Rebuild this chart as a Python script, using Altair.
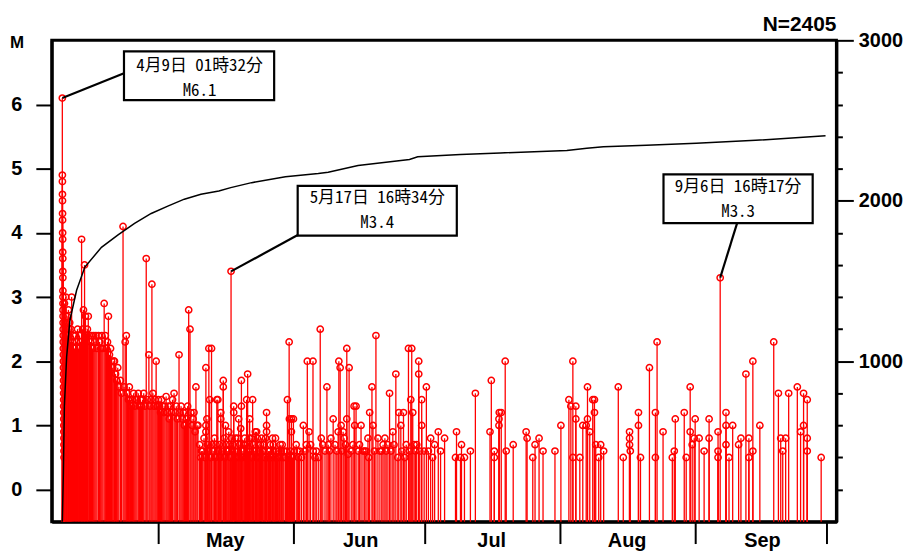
import altair as alt
import pandas as pd

# ---------------- data (day = days since 1 April, 00:00) ----------------
apr_events = [
    (8.06, 6.1), (8.07, 4.9), (8.08, 4.8), (8.09, 4.6), (8.10, 4.5), (8.11, 4.3), (8.12, 4.2),
    (8.13, 4.0), (8.14, 3.9), (8.15, 3.7), (8.16, 3.6), (8.17, 3.4), (8.18, 3.3), (8.19, 3.1),
    (8.20, 3.0), (8.21, 2.9), (8.22, 2.8), (8.23, 2.7), (8.24, 2.6), (8.25, 2.5), (8.26, 2.4),
    (8.27, 2.3), (8.28, 2.2), (8.29, 2.1), (8.30, 2.0), (8.31, 1.9), (8.32, 1.8), (8.33, 1.7),
    (8.34, 1.6), (8.35, 1.5), (8.36, 1.4), (8.37, 1.3), (8.38, 1.2), (8.39, 1.1), (8.40, 1.0),
    (8.41, 0.9), (8.42, 0.8), (8.43, 0.7), (8.44, 0.6), (8.45, 0.5),
    (8.55, 2.9), (8.7, 2.6), (8.85, 3.0), (9.0, 2.5), (9.15, 2.7), (9.3, 2.4), (9.45, 2.8),
    (9.6, 2.5), (9.75, 2.6), (9.9, 2.3), (10.05, 2.5), (10.19, 3.0),
    (10.4, 2.3), (10.6, 2.4), (10.85, 2.2), (11.1, 2.4), (11.3, 2.3), (11.55, 2.5), (11.8, 2.2),
    (12.0, 2.4), (12.25, 2.3), (12.47, 3.9), (12.7, 2.5), (12.9, 2.8), (13.15, 3.5), (13.35, 2.7),
    (13.6, 2.4), (13.8, 2.5), (14.0, 2.7), (14.25, 2.4), (14.5, 2.3), (14.75, 2.4), (15.0, 2.2),
    (15.25, 2.4), (15.5, 2.3), (15.75, 2.4), (16.0, 2.2), (16.34, 2.4),
    (16.6, 2.3), (16.85, 2.2), (17.1, 2.4), (17.35, 2.2), (17.64, 2.9), (17.9, 2.4), (18.15, 2.2),
    (18.4, 2.3), (18.61, 2.7), (18.85, 2.1), (19.1, 2.2), (19.35, 2.0), (19.6, 1.9), (19.85, 2.0),
    (20.0, 2.0), (20.25, 1.8), (20.5, 1.7), (20.75, 1.9), (21.0, 1.6), (21.35, 1.7), (21.6, 1.5),
    (21.96, 4.1), (22.2, 1.6), (22.45, 2.3), (22.71, 2.4), (22.95, 1.5), (23.2, 1.4), (23.4, 1.6),
    (23.65, 1.4), (23.9, 1.3), (24.15, 1.4), (24.4, 1.5), (24.65, 1.3), (24.9, 1.4), (25.15, 1.4),
    (25.45, 1.5), (25.7, 1.3), (25.95, 1.4), (26.2, 1.3), (26.45, 1.4), (26.7, 1.5), (27.0, 1.3),
    (27.27, 3.6), (27.5, 1.4), (27.88, 2.1), (28.1, 1.3), (28.35, 1.4), (28.57, 3.2), (28.8, 1.5),
    (29.05, 1.3), (29.3, 1.4), (29.54, 2.0), (29.8, 1.3),
]
may_events = [
    (30.05, 1.4), (30.3, 1.3), (30.55, 1.2), (30.8, 1.4), (31.05, 1.3), (31.3, 1.2), (31.55, 1.3),
    (31.82, 1.45), (32.05, 1.2), (32.3, 1.3), (32.55, 1.1), (32.8, 1.3), (33.05, 1.2), (33.3, 1.4),
    (33.64, 1.5), (33.9, 1.2), (34.15, 1.3), (34.4, 1.1), (34.78, 2.1), (35.0, 1.2), (35.25, 1.3),
    (35.5, 1.1), (35.75, 1.2), (36.0, 1.0), (36.25, 1.2), (36.5, 1.1), (36.75, 1.3), (36.99, 2.8),
    (37.29, 2.5), (37.5, 1.2), (37.75, 1.0), (38.0, 1.1), (38.2, 1.2), (38.45, 0.9), (38.65, 1.6),
    (38.9, 1.0), (39.11, 1.0),
    (39.5, 0.7), (39.73, 0.5), (39.9, 0.6), (40.2, 0.6), (40.5, 0.8), (40.7, 0.5), (40.93, 1.9),
    (40.93, 1.0), (40.93, 0.9), (41.16, 1.1), (41.3, 0.7), (41.45, 0.6), (41.61, 2.2), (41.8, 1.4),
    (42.05, 0.5), (42.22, 2.2), (42.30, 0.7), (42.6, 0.6), (42.9, 0.8), (43.1, 0.5), (43.25, 0.7),
    (43.43, 1.4), (43.66, 1.4), (43.85, 0.6), (44.0, 0.7), (44.15, 0.5), (44.34, 1.2), (44.34, 1.1),
    (44.6, 0.6), (44.91, 1.7), (44.91, 1.6), (45.1, 0.8), (45.25, 0.5), (45.41, 1.0), (45.6, 0.7),
    (45.8, 0.6), (46.0, 0.6), (46.17, 0.9), (46.4, 0.7), (46.55, 0.5), (46.69, 3.4), (46.84, 0.8),
    (47.0, 0.6), (47.15, 0.7), (47.30, 1.3), (47.30, 1.2), (47.5, 0.6), (47.7, 0.8), (47.9, 0.5),
    (48.1, 0.6), (48.25, 0.8), (48.44, 1.1), (48.55, 0.5), (48.7, 0.7), (48.9, 0.95), (49.06, 1.7),
    (49.06, 1.3), (49.25, 0.5), (49.4, 0.6), (49.6, 0.7), (49.81, 0.8), (50.0, 0.7), (50.15, 0.5),
    (50.26, 1.4), (50.49, 1.8), (50.7, 0.6), (50.85, 0.8), (50.95, 1.1), (51.1, 0.6), (51.3, 0.8),
    (51.45, 0.5), (51.63, 1.4), (51.8, 0.7), (52.0, 0.6), (52.25, 0.9), (52.4, 0.5), (52.54, 0.9),
    (52.7, 0.8), (52.9, 0.7), (53.05, 0.5), (53.2, 0.6), (53.45, 0.7), (53.68, 0.8), (53.85, 0.6),
    (54.0, 0.7), (54.2, 0.6), (54.4, 0.5), (54.6, 0.8), (54.82, 1.2), (54.82, 1.0), (54.82, 0.9),
    (55.1, 0.5), (55.3, 0.6), (55.5, 0.6), (55.7, 0.7), (55.9, 0.5), (56.18, 0.8), (56.35, 0.7),
    (56.5, 0.6), (56.7, 0.5), (56.87, 0.8), (57.1, 0.6), (57.32, 0.5), (57.6, 0.6), (57.8, 0.5),
    (57.94, 0.7), (58.2, 0.6), (58.4, 0.7), (58.6, 0.5), (58.8, 0.6), (59.14, 0.5), (59.4, 0.6),
    (59.60, 1.4), (59.8, 0.5), (59.99, 2.3), (60.05, 1.1), (60.3, 0.6), (60.51, 1.1), (60.51, 0.9),
    (60.75, 0.5), (60.97, 1.1),
]
jun_events = [
    (61.19, 0.6), (61.6, 0.7), (61.85, 0.6), (62.10, 0.5), (62.4, 0.6), (62.79, 0.5), (63.24, 1.0),
    (63.6, 0.6), (63.93, 0.7), (64.15, 2.0), (64.54, 0.9), (64.9, 0.7), (65.45, 2.0), (65.52, 0.6),
    (65.9, 0.5), (66.20, 0.6), (66.66, 0.5), (67.11, 2.5), (67.34, 0.8), (67.7, 0.7), (68.2, 0.6),
    (68.64, 1.6), (68.94, 0.7), (69.2, 0.6), (69.55, 0.8), (70.07, 1.1), (70.5, 0.7), (70.9, 0.6),
    (71.21, 0.9), (71.37, 2.0), (71.67, 1.9), (71.89, 1.0), (72.0, 0.6), (72.35, 0.9), (72.58, 0.8),
    (72.9, 0.7), (73.19, 2.2), (73.19, 1.1), (73.49, 0.55), (73.72, 1.9), (74.2, 0.6), (74.6, 0.7),
    (74.86, 1.3), (75.0, 1.0), (75.31, 1.3), (75.8, 0.6), (76.1, 0.7), (76.45, 1.0), (76.90, 0.6),
    (77.29, 0.6), (77.6, 0.6), (78.04, 0.8), (78.2, 0.5), (78.43, 1.2), (78.95, 1.6), (79.18, 1.0),
    (79.5, 0.6), (79.86, 2.4), (80.32, 0.8), (80.77, 0.6), (81.2, 0.6), (81.5, 0.7), (81.91, 0.8),
    (82.2, 0.6), (82.60, 0.7), (82.98, 1.5), (83.3, 0.6), (83.73, 0.9), (84.0, 0.7), (84.42, 1.8),
    (84.87, 0.5), (85.10, 1.2), (85.56, 1.0), (85.8, 0.6), (86.17, 1.2), (86.47, 0.5), (86.8, 0.7),
    (87.31, 2.2), (87.6, 0.6), (87.84, 1.4), (88.06, 2.2), (88.29, 1.2), (88.6, 0.7), (88.9, 0.6),
    (89.20, 0.7), (89.66, 2.0), (89.66, 1.8), (89.9, 0.6), (90.34, 1.4), (90.34, 1.0), (90.9, 0.6),
]
jul_events = [
    (91.41, 1.6), (91.87, 0.6), (92.39, 0.8), (92.84, 0.5), (93.30, 0.7), (94.14, 0.9), (94.66, 0.6),
    (95.58, 0.8), (98.08, 0.5), (98.31, 0.9), (99.22, 0.5), (99.45, 0.7), (100.13, 0.5), (101.49, 0.6),
    (102.63, 1.5), (105.98, 0.9), (106.28, 1.7), (106.96, 0.6), (106.96, 0.5), (108.03, 1.1),
    (108.03, 1.0), (108.1, 1.2), (108.55, 1.2), (109.46, 2.0), (109.69, 0.6), (111.29, 0.7),
    (114.25, 0.9), (114.47, 0.8), (115.77, 0.5), (116.29, 0.7), (117.21, 0.8), (118.12, 0.6),
    (120.85, 0.6),
]
aug_events = [
    (122.21, 1.0), (124.04, 1.4), (124.49, 1.3), (124.95, 2.0), (124.95, 0.5), (125.63, 1.3),
    (125.63, 1.1), (126.54, 0.5), (127.22, 1.0), (128.0, 1.0), (128.30, 1.6), (128.30, 1.1),
    (128.82, 0.9), (129.5, 1.4), (129.89, 1.4), (129.89, 1.2), (130.18, 0.7), (130.87, 0.5),
    (131.32, 0.7), (132.00, 0.6), (135.35, 1.6), (136.49, 0.5), (137.93, 0.9), (137.93, 0.8),
    (137.93, 0.7), (138.1, 0.6), (139.97, 1.2), (139.97, 1.0), (140.43, 0.5), (142.48, 1.9),
    (143.85, 1.2), (143.85, 0.5), (144.23, 2.3), (145.60, 0.9), (147.72, 0.5), (148.17, 0.6),
    (148.4, 1.1), (150.45, 1.2), (150.90, 0.5), (151.81, 1.6), (151.81, 0.9), (152.27, 0.7),
    (152.73, 0.8),
]
sep_events = [
    (152.95, 1.1), (153.86, 0.8), (155.00, 0.6), (156.14, 1.1), (156.14, 0.8), (158.19, 0.9),
    (158.19, 0.6), (158.19, 0.5), (158.68, 3.3), (160.01, 1.2), (160.01, 1.0), (160.01, 0.7),
    (160.70, 0.5), (161.54, 1.0), (162.90, 0.7), (163.43, 0.8), (164.57, 1.8), (165.25, 0.8),
    (165.25, 0.5), (166.16, 2.0), (166.16, 0.6), (167.76, 1.0), (170.94, 2.3), (172.01, 1.5),
    (172.54, 0.8), (173.0, 0.6), (173.67, 0.8), (174.36, 1.5), (176.34, 1.6), (177.09, 0.9),
    (177.77, 1.5), (177.77, 1.0), (178.61, 1.4), (178.61, 0.8), (178.61, 0.6), (181.80, 0.5),
]

# cumulative number of events (right axis)
cum_day = [8.06, 8.30, 8.53, 9.05, 9.80, 11.33, 13.22, 17.02, 20.82, 24.60, 28.41, 32.21,
           35.99, 39.79, 43.9, 46.62, 51.4, 59.14, 66.66, 68.93, 75.77, 87.54, 89.43, 99.22,
           108.33, 123.58, 128.14, 131.94, 141.80, 153.2, 166.8, 182.8]
cum_n = [0, 307, 720, 1029, 1257, 1442, 1587, 1710, 1787, 1859, 1921, 1967,
         2010, 2041, 2061, 2082, 2113, 2150, 2170, 2178, 2220, 2257, 2274, 2288,
         2298, 2313, 2327, 2336, 2346, 2358, 2377, 2405]
n_total = 2405

month_ticks = [30, 61, 91, 122, 153, 183]
month_names = ["May", "Jun", "Jul", "Aug", "Sep", ""]
mag_ticks = [0, 1, 2, 3, 4, 5, 6]
count_ticks = [1000, 2000, 3000]
count_minor = [200, 400, 600, 800, 1200, 1400, 1600, 1800, 2200, 2400, 2600, 2800]

ann_day = [8.06, 46.69, 158.68]
ann_mag = [6.1, 3.4, 3.3]
ann_time = ["4月9日 01時32分", "5月17日 16時34分", "9月6日 16時17分"]
ann_mtext = ["M6.1", "M3.4", "M3.3"]

# ---------------- build ----------------
events = pd.DataFrame(apr_events + may_events + jun_events + jul_events + aug_events + sep_events,
                      columns=["day", "mag"])
cum = pd.DataFrame({"day": cum_day, "n": cum_n})

W, H = 789, 484
RED = "#ff0000"
FONT = "Liberation Sans"
JFONT = "Noto Sans Mono CJK JP, Noto Sans CJK JP, sans-serif"

xs = alt.Scale(domain=[5.64, 185.29], nice=False, zero=False)
ys = alt.Scale(domain=[-0.5, 7], nice=False, zero=False)
ns = alt.Scale(domain=[0, 3000], nice=False, zero=False)

label_expr = "''"
for v, name in reversed(list(zip(month_ticks, month_names))):
    label_expr = f"datum.value == {v} ? '{name}' : ({label_expr})"

x_axis = alt.Axis(values=month_ticks, labelExpr=label_expr, tickSize=22, tickWidth=2,
                  tickColor="black", labelOffset=67, labelPadding=-13, labelFontSize=20,
                  labelFont=FONT, labelFontWeight="bold", labelColor="black",
                  domainColor="black", domainWidth=3, grid=False, title=None,
                  labelFlush=False, labelOverlap=False, labelBound=False)
m_axis = alt.Axis(values=mag_ticks, format="d", tickSize=16, tickWidth=2, tickColor="black",
                  labelPadding=14, labelFontSize=20, labelFont=FONT, labelFontWeight="bold",
                  labelColor="black", domainColor="black", domainWidth=3, grid=False,
                  title=None, labelFlush=False)
n_axis = alt.Axis(orient="right", values=count_ticks, format="d", tickSize=17, tickWidth=2,
                  tickColor="black", labelPadding=5, labelFontSize=20, labelFont=FONT,
                  labelFontWeight="bold", labelColor="black", domainColor="black",
                  domainWidth=3, grid=False, title=None, labelFlush=False)
n_minor_axis = alt.Axis(orient="right", values=count_minor, tickSize=6, tickWidth=2,
                        tickColor="black", labels=False, domain=False, grid=False, title=None)

# every layer carries the same axis definitions so that they merge
X = alt.X("day:Q", scale=xs, axis=x_axis)
Y = alt.Y("mag:Q", scale=ys, axis=m_axis)

stems = alt.Chart(events).mark_rule(color=RED, strokeWidth=1.3).encode(
    x=X, y=Y, y2=alt.datum(-0.5))
dots = alt.Chart(events).mark_point(shape="circle", size=40, filled=False, color=RED,
                                    strokeWidth=1.5, opacity=1).encode(x=X, y=Y)

# annotation layout (pixel offsets from the annotated event)
ann_style = [
    dict(lead=(62, -25), box=(62, 213, -47, 2), dx=138, dy1=-32.6, dy2=-7.6),
    dict(lead=(68, -37), box=(67, 227, -86, -36), dx=147, dy1=-73.3, dy2=-48.3),
    dict(lead=(17, -55), box=(-57, 93, -104, -55), dx=18, dy1=-91.3, dy2=-66.3),
]
ann_layers = []
for i in range(len(ann_day)):
    d = pd.DataFrame({"day": [ann_day[i]], "mag": [ann_mag[i]],
                      "l1": [ann_time[i]], "l2": [ann_mtext[i]]})
    st = ann_style[i]
    lead = alt.Chart(d).mark_rule(color="black", strokeWidth=2.2,
                                  x2Offset=st["lead"][0], y2Offset=st["lead"][1]).encode(
        x=X, y=Y, x2="day:Q", y2="mag:Q")
    box = alt.Chart(d).mark_rect(fill="white", stroke="black", strokeWidth=2.2,
                                 xOffset=st["box"][0], x2Offset=st["box"][1],
                                 yOffset=st["box"][2], y2Offset=st["box"][3]).encode(
        x=X, y=Y, x2="day:Q", y2="mag:Q")
    t1 = alt.Chart(d).mark_text(align="center", baseline="middle", dx=st["dx"], dy=st["dy1"],
                                font=JFONT, fontSize=17, color="black").encode(
        x=X, y=Y, text="l1:N")
    t2 = alt.Chart(d).mark_text(align="center", baseline="middle", dx=st["dx"], dy=st["dy2"],
                                font=JFONT, fontSize=17, color="black").encode(
        x=X, y=Y, text="l2:N")
    ann_layers += [lead, box, t1, t2]

m_label = alt.Chart(pd.DataFrame({"t": ["M"]})).mark_text(
    font=FONT, fontSize=17, fontWeight="bold", color="black", align="center",
    baseline="alphabetic").encode(text="t:N", x=alt.value(-35), y=alt.value(8))
n_label = alt.Chart(pd.DataFrame({"t": [f"N={n_total}"]})).mark_text(
    font=FONT, fontSize=21, fontWeight="bold", color="black", align="right",
    baseline="alphabetic").encode(text="t:N", x=alt.value(W), y=alt.value(-9))

left = alt.layer(stems, dots, *ann_layers, m_label, n_label)

curve = alt.Chart(cum).mark_line(color="black", strokeWidth=1.5).encode(
    x=X, y=alt.Y("n:Q", scale=ns, axis=n_axis))
curve_minor = alt.Chart(cum).mark_line(strokeOpacity=0).encode(
    x=X, y=alt.Y("n:Q", scale=ns, axis=n_minor_axis))
right = alt.layer(curve, curve_minor).resolve_axis(y="independent")

chart = alt.layer(left, right).resolve_scale(y="independent").properties(
    width=W, height=H,
    autosize=alt.AutoSizeParams(type="none"),
    padding={"left": 44, "top": 31, "right": 75, "bottom": 31},
).configure_view(
    stroke="black", strokeWidth=3
).configure_axisLeft(
    tickSize=16, tickWidth=2, tickColor="black", labelPadding=14, labelFontSize=20,
    labelFont=FONT, labelFontWeight="bold", labelColor="black", domainColor="black",
    domainWidth=3,
)

chart.save("out.html", embed_options={"renderer": "svg", "actions": False})
